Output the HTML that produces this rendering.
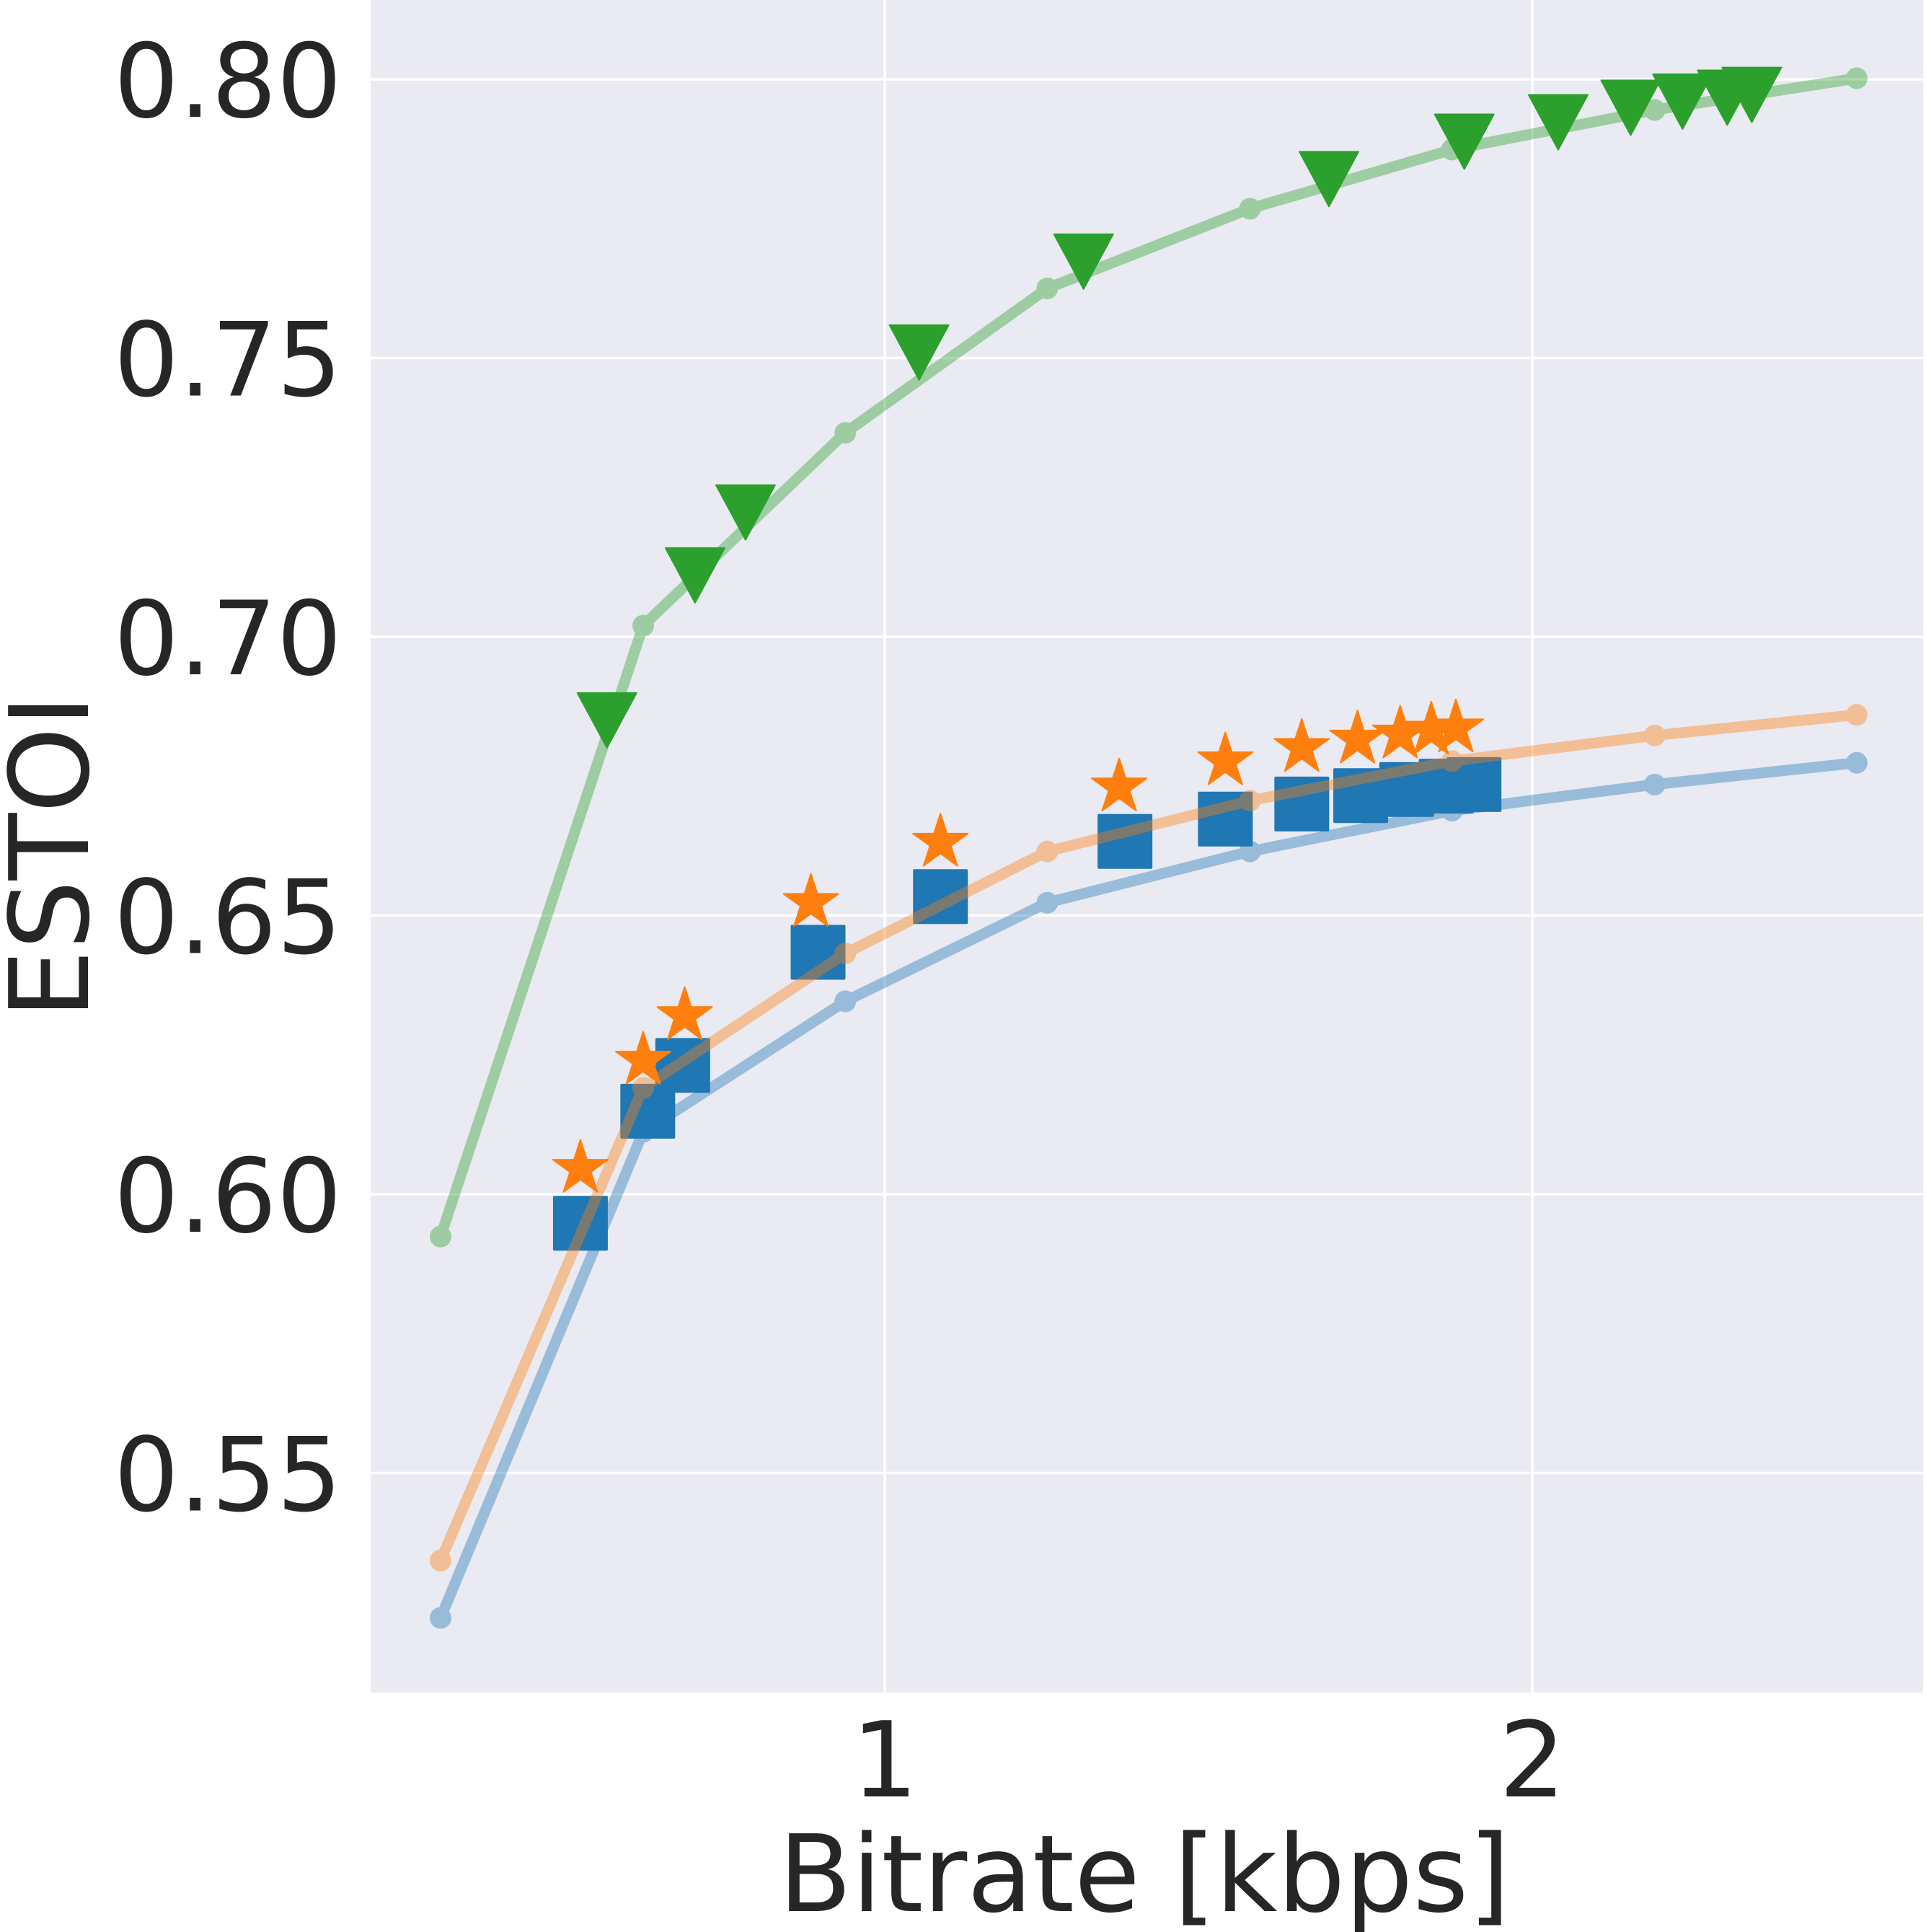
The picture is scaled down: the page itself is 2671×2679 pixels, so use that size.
<!DOCTYPE html>
<html><head><meta charset="utf-8"><style>
html,body{margin:0;padding:0;background:#fff;}
svg{display:block;font-family:"DejaVu Sans","Liberation Sans",sans-serif;}
</style></head><body>
<svg id="chart" width="2671" height="2679" viewBox="0 0 2671 2679" xmlns="http://www.w3.org/2000/svg">
<rect x="0" y="0" width="2671" height="2679" fill="#ffffff"/>
<rect x="514" y="0" width="2153" height="2347" fill="#eaeaf2"/>
<g id="grid"></g>
<g id="marks"></g>
<g id="lines"></g>
<g id="axes"></g>
</svg>
<script>
const lineX = [0.314, 0.627, 0.939, 1.251, 1.564, 1.876, 2.189, 2.501];
const greenLineY = [0.5924, 0.702, 0.7366, 0.7625, 0.7768, 0.7874, 0.7945, 0.8002];
const orangeLineY = [0.5343, 0.6191, 0.6432, 0.6615, 0.6706, 0.6777, 0.6823, 0.686];
const blueLineY = [0.524, 0.6112, 0.6346, 0.6523, 0.6615, 0.6688, 0.6735, 0.6774];
const triX = [0.571, 0.707, 0.785, 1.053, 1.307, 1.686, 1.895, 2.040, 2.152, 2.232, 2.301, 2.339];
const triY = [0.6863, 0.7123, 0.7236, 0.7523, 0.7686, 0.7834, 0.7901, 0.7936, 0.7962, 0.7973, 0.798, 0.7985];
const starX = [0.530, 0.627, 0.691, 0.886, 1.086, 1.362, 1.526, 1.644, 1.730, 1.796, 1.844, 1.882];
const starY = [0.6046, 0.624, 0.632, 0.6523, 0.6631, 0.673, 0.6777, 0.6801, 0.6816, 0.6825, 0.6832, 0.6836];
const sqX = [0.530, 0.634, 0.688, 0.897, 1.086, 1.371, 1.526, 1.644, 1.735, 1.806, 1.867, 1.910];
const sqY = [0.5948, 0.6149, 0.6231, 0.6434, 0.6534, 0.6633, 0.6673, 0.67, 0.6715, 0.6726, 0.6732, 0.6735];
const yTicks = [0.55, 0.60, 0.65, 0.70, 0.75, 0.80];
const yTickLabels = ["0.55", "0.60", "0.65", "0.70", "0.75", "0.80"];
const xTicks = [1, 2];
const xTickLabels = ["1", "2"];

const NS = "http://www.w3.org/2000/svg";
function X(v){ return 1227 + (v - 1) * 898; }
function Y(v){ return 110 + (0.80 - v) / 0.05 * 386.5; }
function mk(tag, attrs, parent){
  const e = document.createElementNS(NS, tag);
  for (const k in attrs) e.setAttribute(k, attrs[k]);
  parent.appendChild(e);
  return e;
}
const grid = document.getElementById('grid');
const marks = document.getElementById('marks');
const lines = document.getElementById('lines');
const axes = document.getElementById('axes');

yTicks.forEach((t, i) => {
  const l = mk('line', {x1:514, x2:2667, y1:Y(t), y2:Y(t), stroke:'#fff', 'stroke-width':3.5}, grid);
  
  
  const tx = mk('text', {x:474, y:Y(t)+52, 'text-anchor':'end', 'font-size':142, fill:'#262626'}, axes);
  tx.textContent = yTickLabels[i];
  
  
});
xTicks.forEach((t, i) => {
  const l = mk('line', {x1:X(t), x2:X(t), y1:0, y2:2347, stroke:'#fff', 'stroke-width':3.5}, grid);
  
  
  const tx = mk('text', {x:X(t), y:2491, 'text-anchor':'middle', 'font-size':145, fill:'#262626'}, axes);
  tx.textContent = xTickLabels[i];
  
  
});
const xl = mk('text', {x:1587, y:2650, 'text-anchor':'middle', 'font-size':148, fill:'#262626'}, axes);
xl.textContent = 'Bitrate [kbps]';


const yl = mk('text', {x:0, y:0, 'text-anchor':'middle', 'font-size':152, fill:'#262626', transform:'translate(122,1188) rotate(-90)'}, axes);
yl.textContent = 'ESTOI';



sqX.forEach((v, i) => {
  const r = mk('rect', {x:X(v)-38, y:Y(sqY[i])-38, width:76, height:76, rx:2, fill:'#1f77b4'}, marks);
  
  
});
function starPath(cx, cy, R){
  const r = R * 0.382; let d = '';
  for (let k = 0; k < 10; k++){
    const a = -Math.PI/2 + k*Math.PI/5; const rr = k%2 ? r : R;
    d += (k ? 'L' : 'M') + (cx + rr*Math.cos(a)).toFixed(1) + ',' + (cy + rr*Math.sin(a)).toFixed(1);
  }
  return d + 'Z';
}
starX.forEach((v, i) => {
  const p = mk('path', {d:starPath(X(v), Y(starY[i]), 40), fill:'#ff7f0e', stroke:'#ff7f0e', 'stroke-width':2, 'stroke-linejoin':'round'}, marks);
  
  
});
triX.forEach((v, i) => {
  const cx = X(v), cy = Y(triY[i]);
  const p = mk('path', {d:`M${cx-41},${cy-28}L${cx+41},${cy-28}L${cx},${cy+48}Z`, fill:'#2ca02c', stroke:'#2ca02c', 'stroke-width':2, 'stroke-linejoin':'round'}, marks);
  
  
});
[[greenLineY, '#2ca02c', 'green-line'], [orangeLineY, '#ff7f0e', 'orange-line'], [blueLineY, '#1f77b4', 'blue-line']].forEach(([ys, c, n]) => {
  const g = mk('g', {opacity:0.4}, lines);
  
  
  const pts = lineX.map((v, i) => X(v).toFixed(1) + ',' + Y(ys[i]).toFixed(1)).join(' ');
  const pl = mk('polyline', {points:pts, fill:'none', stroke:c, 'stroke-width':15, 'stroke-linejoin':'round', 'stroke-linecap':'round'}, g);
  
  
  lineX.forEach((v, i) => {
    const ci = mk('circle', {cx:X(v), cy:Y(ys[i]), r:13, fill:c, stroke:c, 'stroke-width':4}, g);
    
    
  });
});
</script>
</body></html>
